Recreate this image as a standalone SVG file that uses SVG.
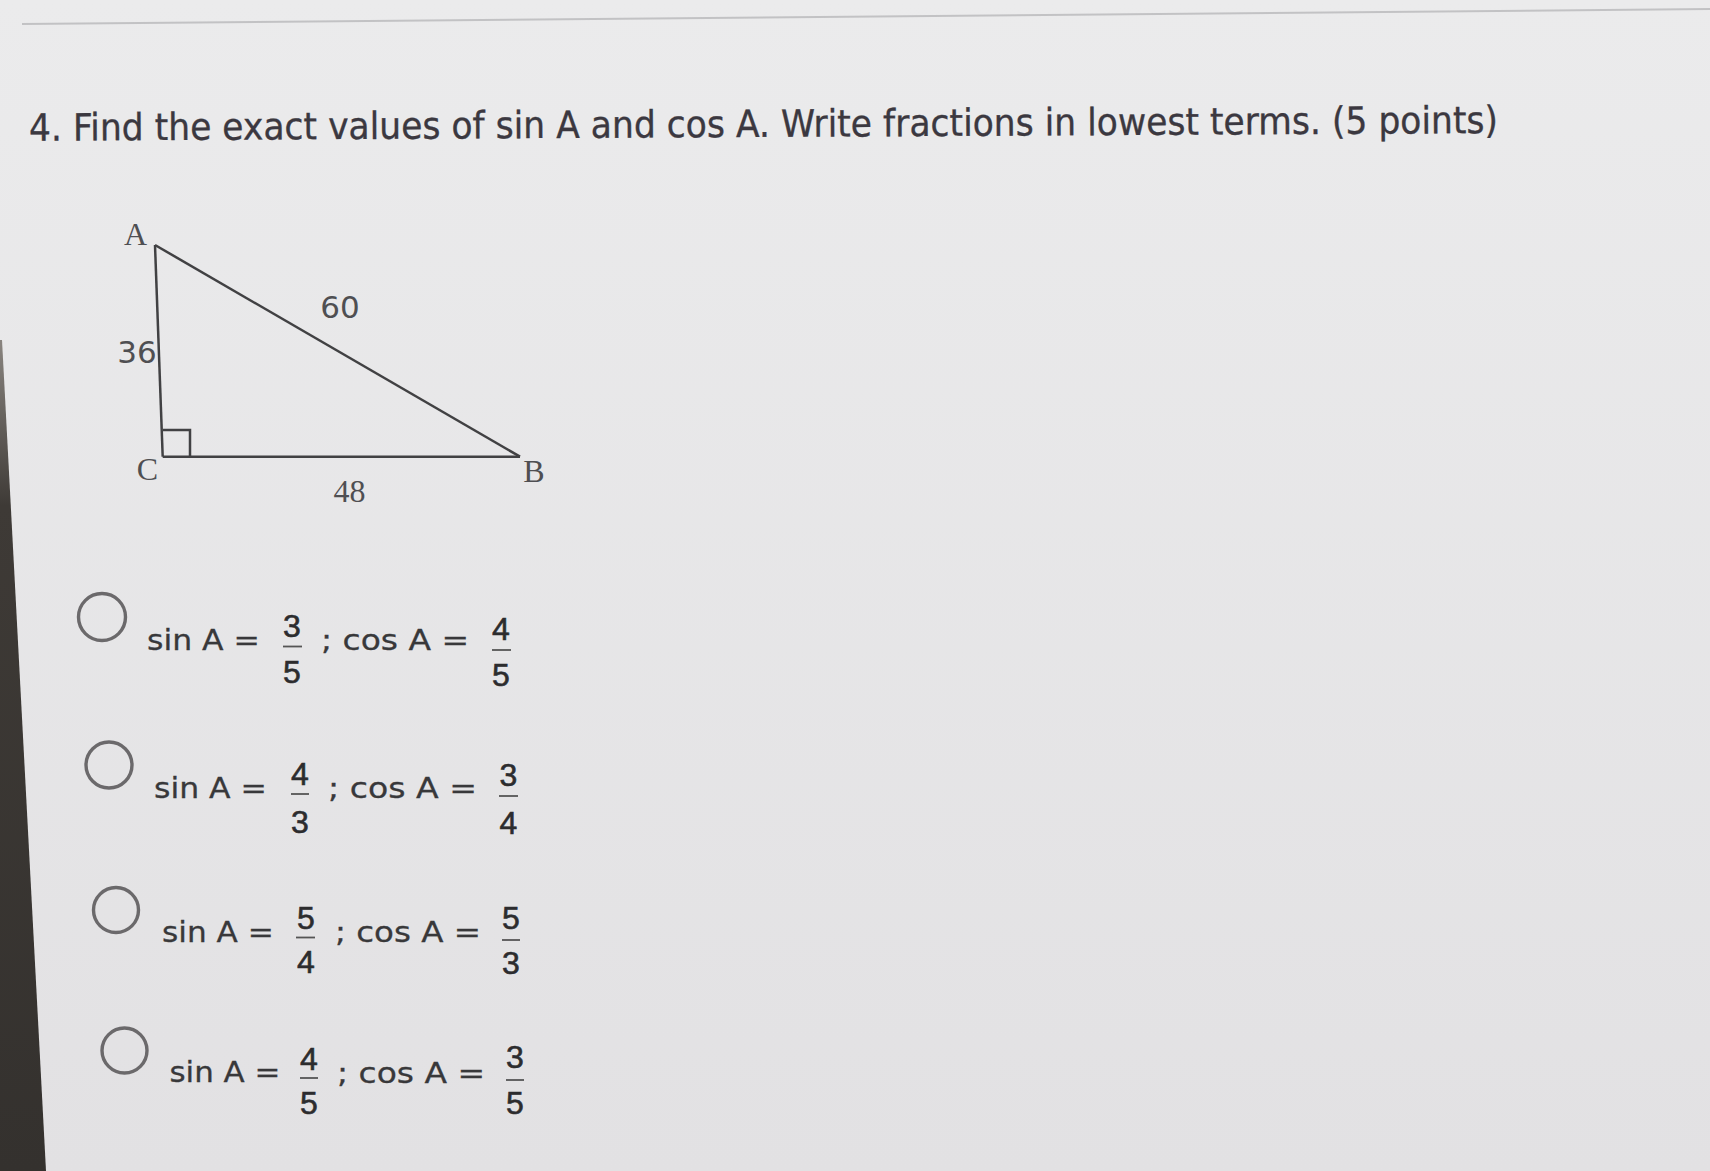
<svg xmlns="http://www.w3.org/2000/svg" width="1710" height="1171" viewBox="0 0 1710 1171">
  <defs>
    <linearGradient id="bg" x1="0" y1="0" x2="0" y2="1">
      <stop offset="0" stop-color="#ebebec"/>
      <stop offset="1" stop-color="#e2e1e3"/>
    </linearGradient>
    <linearGradient id="edge" x1="0" y1="0" x2="0" y2="1">
      <stop offset="0" stop-color="#8a8580"/>
      <stop offset="0.2" stop-color="#3e3a36"/>
      <stop offset="1" stop-color="#34312e"/>
    </linearGradient>
    <style>
      .title { font-family: "DejaVu Sans", Verdana, sans-serif; font-size: 37.5px; fill: #3b3840; stroke: #3b3840; stroke-width: 0.35; }
      .eq { font-family: "DejaVu Sans", Verdana, sans-serif; font-size: 29px; fill: #38383a; stroke: #38383a; stroke-width: 0.3; }
      .dig { font-family: "Liberation Sans", Arial, sans-serif; font-size: 32px; fill: #2c2c2e; stroke: #2c2c2e; stroke-width: 0.6; text-anchor: middle; }
      .bar { stroke: #555; stroke-width: 1.8; }
      .radio { fill: none; stroke: #6b696b; stroke-width: 3.4; }
      .edge { stroke: #414143; stroke-width: 2.5; fill: none; }
      .lblS { font-family: "Liberation Serif", "Times New Roman", serif; font-size: 32px; fill: #4f4f52; text-anchor: middle; }
      .lblN { font-family: "DejaVu Sans", Verdana, sans-serif; font-size: 31px; fill: #4f4f52; text-anchor: middle; }
    </style>
  </defs>

  <rect x="0" y="0" width="1710" height="1171" fill="url(#bg)"/>
  <line x1="22" y1="24" x2="1710" y2="9" stroke="#c2c2c4" stroke-width="2"/>
  <polygon points="0,340 2,340 46,1171 0,1171" fill="url(#edge)"/>

  <g id="question">
    <text class="title" x="29" y="140.7" textLength="1469" lengthAdjust="spacingAndGlyphs" transform="rotate(-0.3 29 140.7)">4. Find the exact values of sin A and cos A. Write fractions in lowest terms. (5 points)</text>
  </g>

  <g id="triangle">
    <g id="connectors">
      <line class="edge" x1="155" y1="245" x2="162.7" y2="456.7"/>
      <line class="edge" x1="162.7" y1="456.7" x2="520" y2="456.7"/>
      <line class="edge" x1="155" y1="245" x2="520" y2="456.7"/>
      <polyline class="edge" points="163,430 190,430 190,456.7"/>
    </g>
    <g id="vertex-A"><text class="lblS" x="135.5" y="245">A</text></g>
    <g id="vertex-C"><text class="lblS" x="147.5" y="480">C</text></g>
    <g id="vertex-B"><text class="lblS" x="534" y="482">B</text></g>
    <g id="side-60"><text class="lblN" x="340" y="318">60</text></g>
    <g id="side-36"><text class="lblN" x="137" y="363">36</text></g>
    <g id="side-48"><text class="lblS" x="349.5" y="502" font-size="35">48</text></g>
  </g>

  <g id="option-1">
    <circle class="radio" cx="102" cy="617" r="23.5"/>
    <text class="eq" x="147" y="650" textLength="113" lengthAdjust="spacingAndGlyphs">sin A =</text>
    <text class="dig" x="292" y="637">3</text>
    <line class="bar" x1="283" y1="646.5" x2="302" y2="646.5"/>
    <text class="dig" x="292" y="683">5</text>
    <text class="eq" x="321" y="650" textLength="148" lengthAdjust="spacingAndGlyphs">; cos A =</text>
    <text class="dig" x="501" y="640">4</text>
    <line class="bar" x1="492" y1="650" x2="511" y2="650"/>
    <text class="dig" x="501" y="686">5</text>
  </g>

  <g id="option-2">
    <circle class="radio" cx="109" cy="765" r="23"/>
    <text class="eq" x="154" y="798" textLength="113" lengthAdjust="spacingAndGlyphs">sin A =</text>
    <text class="dig" x="300" y="785">4</text>
    <line class="bar" x1="291" y1="794" x2="309" y2="794"/>
    <text class="dig" x="300" y="833">3</text>
    <text class="eq" x="328" y="798" textLength="149" lengthAdjust="spacingAndGlyphs">; cos A =</text>
    <text class="dig" x="508.5" y="786">3</text>
    <line class="bar" x1="499" y1="796" x2="518" y2="796"/>
    <text class="dig" x="508.5" y="834">4</text>
  </g>

  <g id="option-3">
    <circle class="radio" cx="116" cy="910" r="22.5"/>
    <text class="eq" x="162" y="941.7" textLength="112" lengthAdjust="spacingAndGlyphs">sin A =</text>
    <text class="dig" x="306" y="929">5</text>
    <line class="bar" x1="296" y1="937.5" x2="315" y2="937.5"/>
    <text class="dig" x="306" y="973">4</text>
    <text class="eq" x="335" y="941.7" textLength="146" lengthAdjust="spacingAndGlyphs">; cos A =</text>
    <text class="dig" x="511" y="929">5</text>
    <line class="bar" x1="502" y1="940" x2="520" y2="940"/>
    <text class="dig" x="511" y="974">3</text>
  </g>

  <g id="option-4">
    <circle class="radio" cx="124.5" cy="1050.5" r="22.5"/>
    <text class="eq" x="169.5" y="1082" textLength="111" lengthAdjust="spacingAndGlyphs">sin A =</text>
    <text class="dig" x="309" y="1070">4</text>
    <line class="bar" x1="300" y1="1078" x2="318" y2="1078"/>
    <text class="dig" x="309" y="1114">5</text>
    <text class="eq" x="337" y="1082.5" textLength="148" lengthAdjust="spacingAndGlyphs">; cos A =</text>
    <text class="dig" x="515" y="1068">3</text>
    <line class="bar" x1="506" y1="1080" x2="524" y2="1080"/>
    <text class="dig" x="515" y="1114">5</text>
  </g>
</svg>
